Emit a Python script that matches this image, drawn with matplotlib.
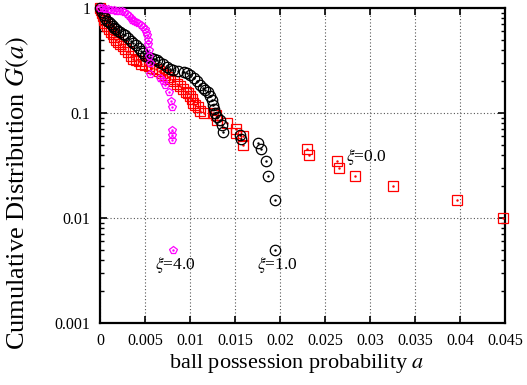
import matplotlib
matplotlib.use("Agg")
import matplotlib.pyplot as plt
from matplotlib.ticker import FixedLocator, LogLocator, NullFormatter, FixedFormatter

plt.rcParams['font.family'] = ['Liberation Serif', 'DejaVu Serif']
plt.rcParams['mathtext.fontset'] = 'stix'

# xi = 0.0 (red squares)
a_xi0 = [0.0000, 0.0001, 0.0002, 0.0003, 0.0004, 0.0006, 0.0008, 0.0010, 0.0012, 0.0014,
         0.0016, 0.0018, 0.0020, 0.0022, 0.0025, 0.0028, 0.0031, 0.0034, 0.0037, 0.0040,
         0.0043, 0.0046, 0.0050, 0.0054, 0.0058, 0.0062, 0.0066, 0.0069, 0.0072, 0.0075,
         0.0078, 0.0082, 0.0086, 0.0089, 0.0092, 0.0095, 0.0098, 0.0100, 0.0102, 0.0103,
         0.0106, 0.0109, 0.0111, 0.0115, 0.0125, 0.0129, 0.0130, 0.0141, 0.0151, 0.0151,
         0.0159, 0.0159, 0.0230, 0.0232, 0.0263, 0.0266, 0.0283, 0.0326, 0.0397, 0.0448]
G_xi0 = [1.00, 0.95, 0.89, 0.83, 0.77, 0.72, 0.67, 0.63, 0.59, 0.56,
         0.53, 0.50, 0.47, 0.45, 0.43, 0.41, 0.38, 0.35, 0.33, 0.32,
         0.31, 0.295, 0.285, 0.28, 0.27, 0.26, 0.25, 0.24, 0.23, 0.22,
         0.21, 0.20, 0.19, 0.18, 0.17, 0.16, 0.155, 0.145, 0.135, 0.125,
         0.12, 0.115, 0.105, 0.10, 0.10, 0.095, 0.085, 0.08, 0.07, 0.065,
         0.06, 0.05, 0.045, 0.04, 0.035, 0.03, 0.025, 0.02, 0.015, 0.01]

# xi = 1.0 (black circles)
a_xi1 = [0.0000, 0.0002, 0.0004, 0.0006, 0.0008, 0.0010, 0.0012, 0.0014, 0.0016, 0.0018,
         0.0020, 0.0022, 0.0025, 0.0028, 0.0031, 0.0034, 0.0037, 0.0040, 0.0043, 0.0046,
         0.0048, 0.0050, 0.0053, 0.0057, 0.0060, 0.0063, 0.0066, 0.0070, 0.0074, 0.0078,
         0.0081, 0.0087, 0.0093, 0.0097, 0.0100, 0.0104, 0.0108, 0.0111, 0.0114, 0.0117,
         0.0120, 0.0122, 0.0124, 0.0126, 0.0127, 0.0128, 0.0130, 0.0133, 0.0136, 0.0137,
         0.0156, 0.0157, 0.0176, 0.0179, 0.0184, 0.0187, 0.0194, 0.0194]
G_xi1 = [1.00, 0.92, 0.85, 0.80, 0.76, 0.73, 0.70, 0.67, 0.65, 0.63,
         0.61, 0.59, 0.57, 0.55, 0.52, 0.49, 0.46, 0.44, 0.42, 0.39,
         0.37, 0.35, 0.34, 0.335, 0.33, 0.32, 0.305, 0.29, 0.275, 0.265,
         0.255, 0.25, 0.245, 0.24, 0.23, 0.215, 0.20, 0.185, 0.173, 0.165,
         0.158, 0.145, 0.133, 0.12, 0.11, 0.10, 0.092, 0.086, 0.077, 0.066,
         0.062, 0.056, 0.052, 0.045, 0.035, 0.025, 0.015, 0.005]

# xi = 4.0 (magenta pentagons)
a_xi4 = [0.0000, 0.0003, 0.0006, 0.0009, 0.0012, 0.0015, 0.0018, 0.0021, 0.0024, 0.0027,
         0.0030, 0.0032, 0.0034, 0.0036, 0.0038, 0.0040, 0.0042, 0.0045, 0.0048, 0.0050,
         0.0051, 0.0052, 0.0053, 0.0053, 0.0054, 0.0054, 0.0055, 0.0056, 0.0067, 0.0070,
         0.0072, 0.0077, 0.0079, 0.0080, 0.0080, 0.0080, 0.0080, 0.0081]
G_xi4 = [1.00, 0.99, 0.98, 0.97, 0.96, 0.95, 0.94, 0.94, 0.93, 0.92,
         0.88, 0.84, 0.80, 0.77, 0.75, 0.73, 0.72, 0.69, 0.66, 0.63,
         0.59, 0.55, 0.50, 0.45, 0.40, 0.35, 0.30, 0.235, 0.216, 0.20,
         0.185, 0.16, 0.13, 0.114, 0.069, 0.062, 0.055, 0.005]

x_ticks = [0, 0.005, 0.01, 0.015, 0.02, 0.025, 0.03, 0.035, 0.04, 0.045]
x_ticklabels = ['0', '0.005', '0.01', '0.015', '0.02', '0.025', '0.03', '0.035', '0.04', '0.045']
y_ticks = [0.001, 0.01, 0.1, 1]
y_ticklabels = ['0.001', '0.01', '0.1', '1']

W, H = 527, 385
fig = plt.figure(figsize=(W / 100, H / 100), dpi=100)
ax = fig.add_axes([100 / W, 1 - 323 / H, 405 / W, 315 / H])

ax.set_yscale('log')
ax.set_xlim(0, 0.045)
ax.set_ylim(0.001, 1)

ax.plot(a_xi0, G_xi0, linestyle='none', marker='s', markersize=7, markerfacecolor='none',
        markeredgecolor='#ff0000', markeredgewidth=0.9, zorder=3, clip_on=False)
ax.plot(a_xi0, G_xi0, linestyle='none', marker='.', markersize=1.5, color='#ff0000', zorder=3)
ax.plot(a_xi1, G_xi1, linestyle='none', marker='o', markersize=7.5, markerfacecolor='none',
        markeredgecolor='black', markeredgewidth=0.9, zorder=4, clip_on=False)
ax.plot(a_xi1, G_xi1, linestyle='none', marker='.', markersize=1.5, color='black', zorder=4)
ax.plot(a_xi4, G_xi4, linestyle='none', marker='p', markersize=6, markerfacecolor='none',
        markeredgecolor='#ff00ff', markeredgewidth=0.9, zorder=5, clip_on=False)
ax.plot(a_xi4, G_xi4, linestyle='none', marker='.', markersize=1.5, color='#ff00ff', zorder=5)

ax.xaxis.set_major_locator(FixedLocator(x_ticks))
ax.xaxis.set_major_formatter(FixedFormatter(x_ticklabels))
ax.yaxis.set_major_locator(FixedLocator(y_ticks))
ax.yaxis.set_major_formatter(FixedFormatter(y_ticklabels))
ax.yaxis.set_minor_locator(LogLocator(base=10, subs=range(2, 10)))
ax.yaxis.set_minor_formatter(NullFormatter())

ax.grid(True, which='major', linestyle=(0, (1, 2)), color='#555555', linewidth=0.8)
ax.tick_params(which='both', direction='in', top=True, right=True, labelsize=11.5)
ax.tick_params(axis='x', pad=7)
ax.tick_params(axis='y', pad=7)
ax.tick_params(which='major', length=5, width=1.2)
ax.tick_params(which='minor', length=3, width=1.0)
for s in ax.spines.values():
    s.set_linewidth(1.6)

ax.set_xlabel('ball possession probability $a$', fontsize=16)
ax.set_ylabel('Cumulative Distribution $G(a)$', fontsize=19)
ax.xaxis.label.set_va('center')
ax.yaxis.label.set_va('center')
ax.xaxis.set_label_coords(0.487, -0.13)
ax.yaxis.set_label_coords(-0.203, 0.413)

ax.text(0.0273, 0.038, r'$\xi$=0.0', fontsize=12.5, ha='left', va='center')
ax.text(0.0061, 0.00357, r'$\xi$=4.0', fontsize=12.5, ha='left', va='center')
ax.text(0.0174, 0.00357, r'$\xi$=1.0', fontsize=12.5, ha='left', va='center')

fig.savefig('out.png', dpi=100)
